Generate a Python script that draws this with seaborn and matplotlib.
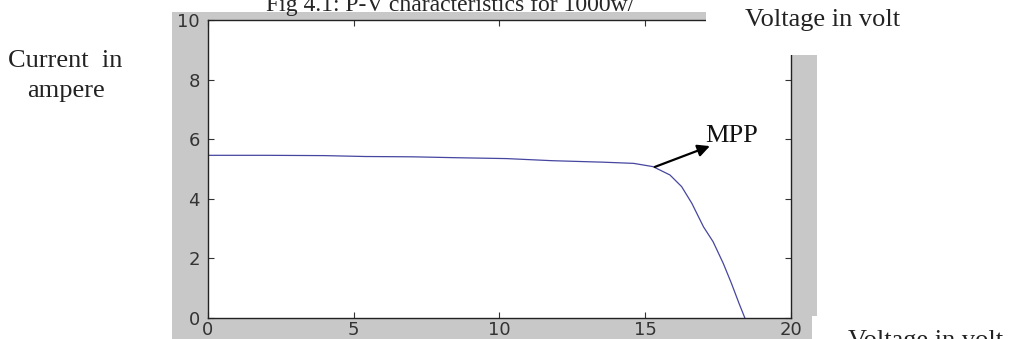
import seaborn as sns
import matplotlib.pyplot as plt
import matplotlib.patches as mpatches
import pandas as pd

# values
voltage = [0, 2, 4, 5.4, 7, 8.5, 10.25, 11.8, 13.55, 14.6, 15.27, 15.85,
           16.25, 16.6, 17.0, 17.33, 17.68, 17.96, 18.22, 18.42]
current = [5.46, 5.46, 5.45, 5.42, 5.41, 5.38, 5.35, 5.28, 5.23, 5.19, 5.08,
           4.80, 4.41, 3.85, 3.06, 2.56, 1.83, 1.16, 0.49, 0.0]
x_ticks = [0, 5, 10, 15, 20]
y_ticks = [0, 2, 4, 6, 8, 10]
mpp_point = (15.33, 5.07)
mpp_label_at = (17.22, 5.77)

df = pd.DataFrame({"Voltage": voltage, "Current": current})

sns.set_style("ticks")
plt.rcParams["font.family"] = ["DejaVu Sans"]

fig = plt.figure(figsize=(10.1, 3.39), dpi=100)
fig.patch.set_facecolor("white")

# matlab-style grey figure background
fig.patches.append(mpatches.Rectangle((0.1703, 0.0), 0.6386, 0.9646,
                                      transform=fig.transFigure,
                                      facecolor="#c8c8c8", edgecolor="none",
                                      zorder=-1))

ax = fig.add_axes([0.2059, 0.0619, 0.5772, 0.879])
ax.set_facecolor("white")

sns.lineplot(data=df, x="Voltage", y="Current", color="#4646a0",
             linewidth=0.9, ax=ax)

ax.set_xlim(0, 20)
ax.set_ylim(0, 10)
ax.set_xticks(x_ticks)
ax.set_yticks(y_ticks)
ax.set_xlabel("")
ax.set_ylabel("")
ax.tick_params(direction="in", length=4, width=0.8, top=True, right=True,
               labelsize=13, colors="#333333", pad=2)
ax.tick_params(axis="y", pad=6)
for s in ax.spines.values():
    s.set_visible(True)
    s.set_color("#222222")
    s.set_linewidth(1.0)

ax.annotate("", xy=mpp_label_at, xytext=mpp_point,
            arrowprops=dict(arrowstyle="-|>", color="black", lw=1.6,
                            mutation_scale=18, shrinkA=0, shrinkB=0))

# white pieces of the scanned page lying over the figure
fig.patches.append(mpatches.Rectangle((0.699, 0.8378), 0.301, 0.17,
                                      transform=fig.transFigure,
                                      facecolor="white", edgecolor="none",
                                      zorder=2))
fig.patches.append(mpatches.Rectangle((0.804, 0.0), 0.196, 0.0678,
                                      transform=fig.transFigure,
                                      facecolor="white", edgecolor="none",
                                      zorder=2))

serif = ["Liberation Serif", "DejaVu Serif"]
fig.text(0.4455, 0.9676, "Fig 4.1: P-V characteristics for 1000w/",
         ha="center", va="baseline", fontsize=17, family=serif, zorder=3)
fig.text(0.065, 0.8024, "Current  in", ha="center", va="baseline",
         fontsize=19, family=serif, color="#222222", zorder=3)
fig.text(0.065, 0.7139, "ampere", ha="center", va="baseline",
         fontsize=19, family=serif, color="#222222", zorder=3)
fig.text(0.7376, 0.9233, "Voltage in volt", ha="left", va="baseline",
         fontsize=19, family=serif, color="#222222", zorder=3)
fig.text(0.698, 0.5811, "MPP", ha="left", va="baseline",
         fontsize=19, family=serif, color="#111111", zorder=3)
fig.text(0.8396, -0.024, "Voltage in volt", ha="left", va="baseline",
         fontsize=19, family=serif, color="#222222", zorder=3)

fig.savefig("out.png", dpi=100)
